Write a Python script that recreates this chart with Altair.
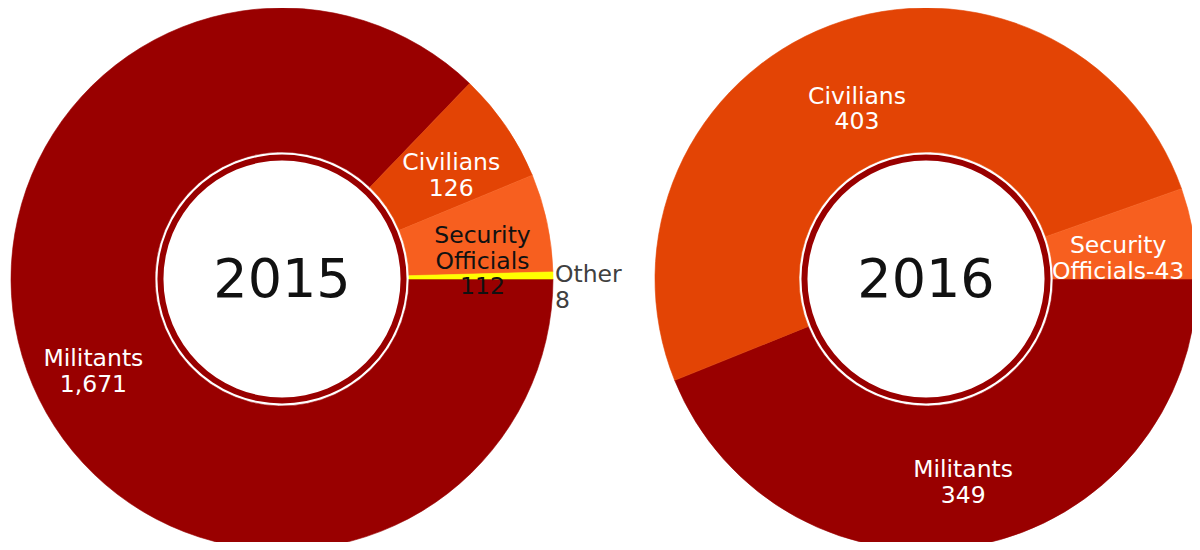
import math
import altair as alt
import pandas as pd

# ---- data ----
years = [2015, 2016]
categories = ["Militants", "Civilians", "Security Officials", "Other"]
values_2015 = [1671, 126, 112, 8]
values_2016 = [349, 403, 43]
labels_2015 = ["Militants\n1,671", "Civilians\n126", "Security\nOfficials\n112", "Other\n8"]
labels_2016 = ["Militants\n349", "Civilians\n403", "Security\nOfficials-43"]

colors = ["#990000", "#E34405", "#F75F1F", "#FFFF00"]
outside_categories = ["Other"]
dark_label_categories = {2015: ["Security Officials"]}

FONT = "DejaVu Sans"
START = math.pi / 2


def make_df(year, values, labels):
    rows = []
    for i, v in enumerate(values):
        cat = categories[i]
        rows.append(dict(
            year=year, category=cat, order=i, value=v,
            inner_label="" if cat in outside_categories else labels[i],
            outer_label=labels[i] if cat in outside_categories else "",
            dark=cat in dark_label_categories.get(year, []),
        ))
    return pd.DataFrame(rows)


def donut(year, values, labels, cx, cy, label_radius):
    df = make_df(year, values, labels)
    theta_scale = alt.Scale(range=[START, START + 2 * math.pi])
    color_scale = alt.Scale(domain=categories, range=colors)
    base = alt.Chart(df).encode(
        theta=alt.Theta("value:Q", stack=True, scale=theta_scale),
        order=alt.Order("order:Q", sort="ascending"),
    )
    arcs = base.mark_arc(innerRadius=127, outerRadius=271, strokeWidth=0.6).encode(
        x=alt.value(cx), y=alt.value(cy),
        color=alt.Color("category:N", scale=color_scale, legend=None),
        stroke=alt.Stroke("category:N", scale=color_scale, legend=None),
    )
    inner_text = base.mark_text(
        radius=label_radius, font=FONT, fontSize=23.5, lineBreak="\n",
        lineHeight=25.5, baseline="middle", align="center",
    ).encode(
        x=alt.value(cx), y=alt.value(cy),
        text="inner_label:N",
        color=alt.condition("datum.dark", alt.value("#111111"), alt.value("#ffffff")),
    )
    outer_text = base.mark_text(
        radius=273, font=FONT, fontSize=23.5, lineBreak="\n",
        lineHeight=25.5, baseline="middle", align="left", color="#404040",
    ).encode(
        x=alt.value(cx), y=alt.value(cy),
        text="outer_label:N",
    )
    ydf = pd.DataFrame({"year": [str(year)]})
    ring = alt.Chart(ydf).mark_arc(
        innerRadius=118.5, outerRadius=124.5, theta=0, theta2=2 * math.pi,
        color="#990000",
    ).encode(x=alt.value(cx), y=alt.value(cy))
    year_text = alt.Chart(ydf).mark_text(
        font=FONT, fontSize=54, color="#111111", baseline="middle", align="center",
    ).encode(x=alt.value(cx), y=alt.value(cy + 2), text="year:N")
    return alt.layer(arcs, ring, year_text, inner_text, outer_text)


d2015 = donut(years[0], values_2015, labels_2015, 274, 271, 205)
d2016 = donut(years[1], values_2016, labels_2016, 918, 271, 195)

chart = alt.layer(d2015, d2016).resolve_scale(theta="independent").properties(
    width=1184, height=534, padding=0, background="white",
    autosize=alt.AutoSizeParams(type="none"),
).configure_view(stroke=None)

chart.save("out.html", embed_options={"renderer": "svg", "actions": False})
